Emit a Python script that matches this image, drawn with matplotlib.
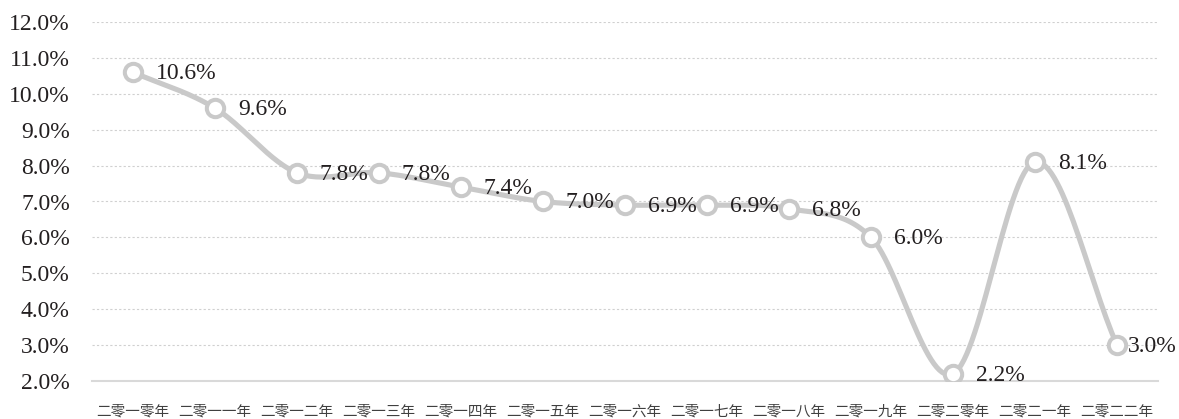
import numpy as np
import matplotlib
matplotlib.use("Agg")
import matplotlib.pyplot as plt
from matplotlib.ticker import FuncFormatter

years = ["二零一零年", "二零一一年", "二零一二年", "二零一三年", "二零一四年",
         "二零一五年", "二零一六年", "二零一七年", "二零一八年", "二零一九年",
         "二零二零年", "二零二一年", "二零二二年"]
growth = [10.6, 9.6, 7.8, 7.8, 7.4, 7.0, 6.9, 6.9, 6.8, 6.0, 2.2, 8.1, 3.0]

line_col = "#c9c9c9"
text_col = "#231f20"


def smooth(x, y, n=30):
    # catmull-rom through the points, like a spreadsheet smoothed line
    x = np.asarray(x, float)
    y = np.asarray(y, float)
    px = np.concatenate([[2 * x[0] - x[1]], x, [2 * x[-1] - x[-2]]])
    py = np.concatenate([[2 * y[0] - y[1]], y, [2 * y[-1] - y[-2]]])
    xs, ys = [], []
    t = np.linspace(0, 1, n, endpoint=False)
    for i in range(1, len(px) - 2):
        p0, p1, p2, p3 = px[i - 1:i + 3]
        q0, q1, q2, q3 = py[i - 1:i + 3]
        c1x, c1y = p1 + (p2 - p0) / 6, q1 + (q2 - q0) / 6
        c2x, c2y = p2 - (p3 - p1) / 6, q2 - (q3 - q1) / 6
        b0 = (1 - t) ** 3
        b1 = 3 * (1 - t) ** 2 * t
        b2 = 3 * (1 - t) * t ** 2
        b3 = t ** 3
        xs.append(b0 * p1 + b1 * c1x + b2 * c2x + b3 * p2)
        ys.append(b0 * q1 + b1 * c1y + b2 * c2y + b3 * q2)
    xs.append([x[-1]])
    ys.append([y[-1]])
    return np.concatenate(xs), np.concatenate(ys)


fig = plt.figure(figsize=(11.79, 4.19), dpi=100)
ax = fig.add_axes([92 / 1179, 1 - 381 / 419, (1158 - 92) / 1179, (381 - 22) / 419])

x = np.arange(len(years))
sx, sy = smooth(x, growth)
ax.plot(sx, sy, color=line_col, lw=3.7, solid_capstyle="round", zorder=3)
ax.plot(x, growth, ls="none", marker="o", ms=12.5, mfc="white", mec=line_col,
        mew=2.9, zorder=4)

for i, (xi, v) in enumerate(zip(x, growth)):
    # the last label is pulled in so it stays inside the figure
    dx = 8 if i == len(growth) - 1 else 16.5
    ax.annotate(f"{v:.1f}%", (xi, v), xytext=(dx, -1), textcoords="offset points",
                ha="left", va="center", fontsize=17, family="Liberation Serif",
                color=text_col, zorder=5)

ax.set_xlim(-0.5, len(years) - 0.5)
ax.set_ylim(2.0, 12.0)
ax.set_yticks(np.arange(2.0, 12.01, 1.0))
ax.yaxis.set_major_formatter(FuncFormatter(lambda v, p: f"{v:.1f}%"))
ax.grid(axis="y", color="#d0d0d0", ls=(0, (2, 2)), lw=0.8)
ax.set_xticks(x)
ax.set_xticklabels(years, family=["Noto Sans CJK SC", "DejaVu Sans"], fontsize=10.5,
                   fontweight="light", color="#404040")

for lbl in ax.get_yticklabels():
    lbl.set_family("Liberation Serif")
    lbl.set_fontsize(17)
    lbl.set_color(text_col)

ax.tick_params(axis="both", length=0)
ax.tick_params(axis="y", pad=16)
ax.tick_params(axis="x", pad=17)
for s in ["top", "right", "left"]:
    ax.spines[s].set_visible(False)
ax.spines["bottom"].set_color("#d9d9d9")
ax.spines["bottom"].set_linewidth(1.5)

fig.savefig("out.png", dpi=100)
